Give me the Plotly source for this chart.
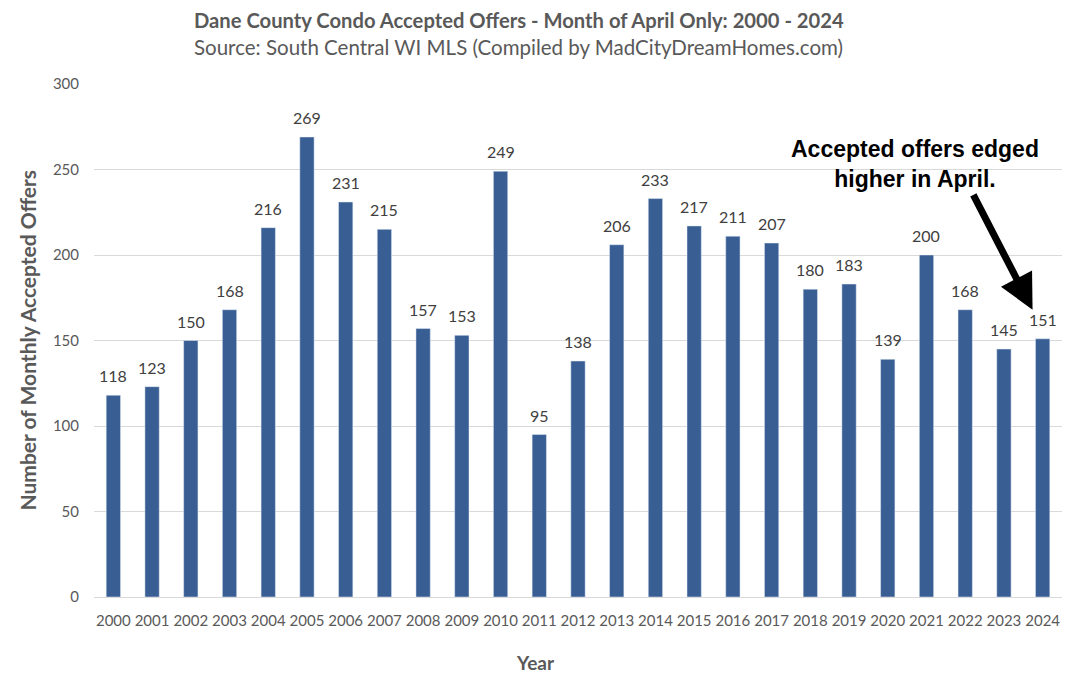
import plotly.graph_objects as go

years = [str(y) for y in range(2000, 2025)]
offers = [118, 123, 150, 168, 216, 269, 231, 215, 157, 153, 249, 95, 138,
          206, 233, 217, 211, 207, 180, 183, 139, 200, 168, 145, 151]

title_text = "Dane County Condo Accepted Offers - Month of April Only: 2000 - 2024"
subtitle_text = "Source: South Central WI MLS (Compiled by MadCityDreamHomes.com)"
note_text = "Accepted offers edged<br>higher in April."
x_title = "Year"
y_title = "Number of Monthly Accepted Offers"

FONT = "Lato"
GREY = "#595959"

fig = go.Figure(go.Bar(
    x=years, y=offers, width=0.37,
    marker=dict(color="#385E94"),
    cliponaxis=False,
))

# data labels
for i, v in enumerate(offers):
    fig.add_annotation(x=i, y=v, xref="x", yref="y", showarrow=False,
                       text=str(v), yanchor="bottom", yshift=8,
                       font=dict(family=FONT, size=16, color="#404040"))

W, H = 1073, 682
L, R, T, B = 86, 19, 76, 93
fig.update_layout(
    width=W, height=H,
    margin=dict(l=L, r=R, t=T, b=B, autoexpand=False),
    paper_bgcolor="white", plot_bgcolor="white",
    showlegend=False,
    font=dict(family=FONT, color=GREY),
)
fig.update_yaxes(range=[0, 300], dtick=50, showgrid=True, gridcolor="#d9d9d9",
                 gridwidth=1, zeroline=False, showline=False, automargin=False,
                 tickfont=dict(size=15, color=GREY), ticks="",
                 ticklabelstandoff=14)
fig.update_xaxes(type="category", range=[-0.5, len(years) - 0.5],
                 showline=True, linecolor="#d9d9d9", linewidth=1, automargin=False,
                 tickfont=dict(size=15, color=GREY), ticks="",
                 ticklabelstandoff=10)

fig.add_annotation(xref="paper", yref="paper", x=0.439, y=1.0, yshift=64,
                   xanchor="center", yanchor="middle", showarrow=False,
                   text=f"<b>{title_text}</b>", font=dict(size=20.2, color=GREY))
fig.add_annotation(xref="paper", yref="paper", x=0.439, y=1.0, yshift=37,
                   xanchor="center", yanchor="middle", showarrow=False,
                   text=subtitle_text, font=dict(size=20.5, color=GREY))
# axis titles
fig.add_annotation(xref="x", yref="paper", x=10.9, y=0, yshift=-65,
                   xanchor="center", yanchor="middle", showarrow=False,
                   text=f"<b>{x_title}</b>", font=dict(size=19, color=GREY))
fig.add_annotation(xref="paper", yref="paper", x=0, y=0.5, xshift=-67,
                   xanchor="center", yanchor="middle", showarrow=False, textangle=-90,
                   text=f"<b>{y_title}</b>", font=dict(size=21, color=GREY))

fig.add_annotation(x=20.7, y=253, xref="x", yref="y", showarrow=False,
                   text=f"<b>{note_text}</b>", align="center",
                   font=dict(family="Liberation Sans", size=23, color="black"))
fig.add_annotation(x=23.74, y=168, ax=22.19, ay=236, xref="x", yref="y",
                   axref="x", ayref="y", showarrow=True, text="",
                   arrowhead=2, arrowwidth=7, arrowsize=1.0, arrowcolor="black")

fig.write_html("out.html")
